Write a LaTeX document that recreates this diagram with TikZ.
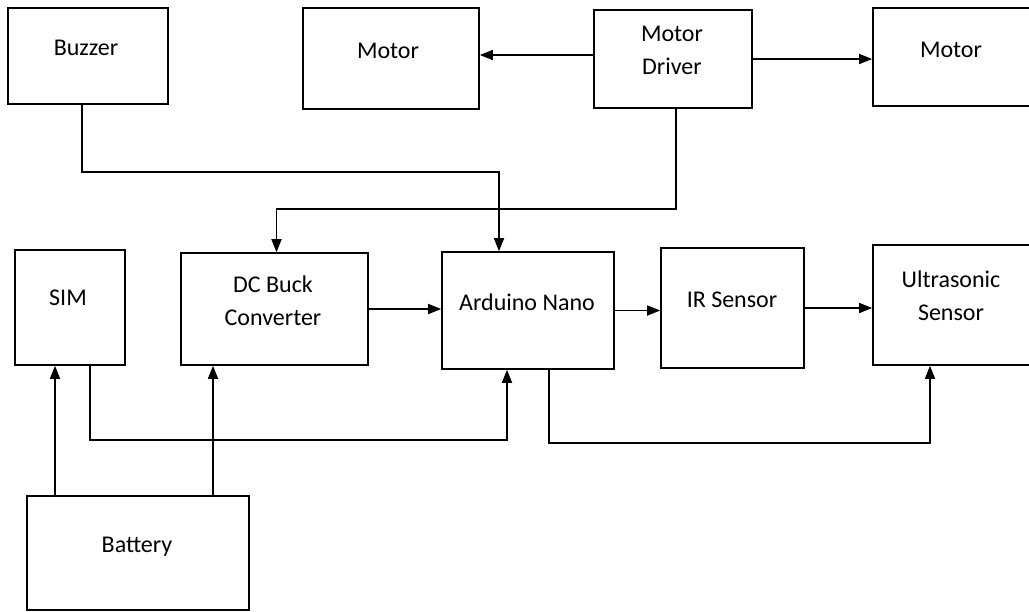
\documentclass[tikz,border=0pt]{standalone}
\usepackage{fontspec}
\setmainfont{Carlito}
\usetikzlibrary{arrows.meta, positioning, calc}

\begin{document}
\begin{tikzpicture}[
    x=1pt, y=-1pt,
    >={Triangle[length=13pt, width=10pt]},
    blk/.style={draw, line width=1.6pt, inner sep=0pt},
    txt/.style={font=\fontsize{24}{33}\selectfont, align=center, inner sep=0pt},
    wire/.style={line width=1.6pt},
    arr/.style={wire, ->}
  ]
  \useasboundingbox (0,0) rectangle (1029,611);

  % Top row
  \node[blk, minimum width=160pt, minimum height=96pt] (buzzer) at (88,56) {};
  \node[blk, minimum width=176pt, minimum height=101pt] (motorL) at (391,58.5) {};
  \node[blk, minimum width=158pt, minimum height=98pt] (driver) at (673,59) {};
  \node[blk, minimum width=162pt, minimum height=98pt] (motorR) at (954,57) {};

  % Middle row
  \node[blk, minimum width=110pt, minimum height=115pt] (sim) at (70,307.5) {};
  \node[blk, minimum width=187pt, minimum height=112pt] (buck) at (274.5,309) {};
  \node[blk, minimum width=172pt, minimum height=117pt] (nano) at (528,310.5) {};
  \node[blk, minimum width=143pt, minimum height=120pt] (ir) at (732.5,308) {};
  \node[blk, minimum width=162pt, minimum height=120pt] (ultra) at (954,305) {};

  % Bottom
  \node[blk, minimum width=222pt, minimum height=114pt] (battery) at (138,553) {};

  % Labels
  \node[txt, anchor=base] (buzzer-t) at (86,55) {Buzzer};
  \node[txt, anchor=base] (motorL-t) at (388,58) {Motor};
  \node[txt] (driver-t) at (672,50) {Motor\\Driver};
  \node[txt, anchor=base] (motorR-t) at (951,57) {Motor};
  \node[txt, anchor=base] (sim-t) at (68,305) {SIM};
  \node[txt] (buck-t) at (273,301) {DC Buck\\Converter};
  \node[txt, anchor=base] (nano-t) at (527,310) {Arduino Nano};
  \node[txt, anchor=base] (ir-t) at (732,307) {IR Sensor};
  \node[txt] (ultra-t) at (951,296) {Ultrasonic\\Sensor};
  \node[txt, anchor=base] (battery-t) at (137,552) {Battery};

  % Motor driver outputs
  \draw[arr] ([yshift=4pt]driver.west) -- ([yshift=4pt]driver.west -| motorL.east);
  \draw[arr] (driver.east) -- (driver.east -| motorR.west);

  % Long runs
  \draw[arr] ([xshift=-6pt]buzzer.south) -- ++(0,67) -| ([xshift=-29pt]nano.north);
  \draw[arr] ([xshift=3pt]driver.south) -- ++(0,100) -| ([xshift=2pt]buck.north);
  \draw[arr] ([xshift=20pt]sim.south) -- ++(0,74) -| ([xshift=-21pt]nano.south);
  \draw[arr] ([xshift=21pt]nano.south) -- ++(0,73) -| ([xshift=-24pt]ultra.south);

  % Middle chain
  \draw[arr] (buck.east) -- (buck.east -| nano.west);
  \draw[arr] (nano.east) -- (nano.east -| ir.west);
  \draw[arr] (ir.east) -- (ir.east -| ultra.west);

  % Battery feeds
  \draw[arr] ([xshift=-83pt]battery.north) -- ([xshift=-15pt]sim.south);
  \draw[arr] ([xshift=75pt]battery.north) -- ([xshift=-61.5pt]buck.south);
\end{tikzpicture}
\end{document}
